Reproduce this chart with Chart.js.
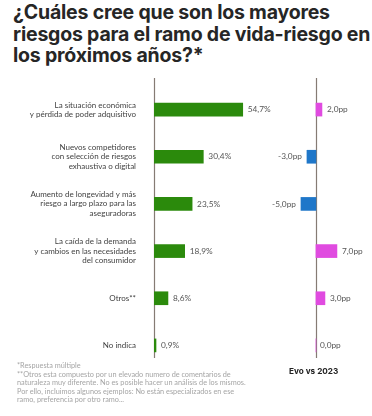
<!DOCTYPE html>
<html lang="es">
<head>
<meta charset="UTF-8">
<title>Riesgos vida-riesgo</title>
<script src="https://cdn.jsdelivr.net/npm/chart.js@4.4.0/dist/chart.umd.min.js"></script>
<style>
  body { margin: 0; background: #fff; width: 372px; height: 416px; position: relative; overflow: hidden; font-family: Lato, sans-serif; }
  .title { position: absolute; left: 13px; top: 2px; width: 358px; font-family: Inter, sans-serif; font-weight: 700; font-size: 19.5px; line-height: 21.5px; color: #262626; letter-spacing: -0.2px; }
  canvas { position: absolute; top: 60px; }
  #left { left: 0; }
  #right { left: 250px; }
  .notes { position: absolute; left: 17px; top: 362px; font-size: 7.3px; line-height: 8.5px; color: #a5a5a5; }
  .evo { position: absolute; left: 289px; top: 366px; font-family: Inter, sans-serif; font-size: 8.2px; font-weight: 700; color: #222; }
</style>
</head>
<body>
<div class="title">¿Cuáles cree que son los mayores riesgos para el ramo de vida-riesgo en los próximos años?*</div>
<canvas id="left" width="300" height="320"></canvas>
<canvas id="right" width="122" height="320"></canvas>
<div class="notes">*Respuesta múltiple<br>**Otros esta compuesto por un elevado numero de comentarios de<br>naturaleza muy diferente. No es posible hacer un análisis de los mismos.<br>Por ello, incluimos algunos ejemplos: No están especializados en ese<br>ramo, preferencia por otro ramo...</div>
<div class="evo">Evo vs 2023</div>

<script>
  const categories = [
    ['La situación económica', 'y pérdida de poder adquisitivo'],
    ['Nuevos competidores', 'con selección de riesgos', 'exhaustiva o digital'],
    ['Aumento de longevidad y más', 'riesgo a largo plazo para las', 'aseguradoras'],
    ['La caída de la demanda', 'y cambios en las necesidades', 'del consumidor'],
    'Otros**',
    'No indica'
  ]
  const share2024 = [54.7, 30.4, 23.5, 18.9, 8.6, 0.9]
  const evoVs2023 = [2.0, -3.0, -5.0, 7.0, 3.0, 0.0]

  const green = '#2b8a0c'
  const pink = '#e04be0'
  const blue = '#1f77c9'
  const pad = { top: 26, bottom: 11, left: 0, right: 0 }

  // vertical line at zero, a bit taller/shorter than the plot area like the original
  const zeroLine = {
    id: 'zeroLine',
    beforeDatasetsDraw(chart) {
      const { ctx, chartArea, scales } = chart
      const x = Math.round(scales.x.getPixelForValue(0)) + 0.5
      ctx.save()
      ctx.strokeStyle = '#857b74'
      ctx.lineWidth = 1.2
      ctx.beginPath()
      ctx.moveTo(x, chartArea.top - 8)
      ctx.lineTo(x, chartArea.bottom - 11)
      ctx.stroke()
      ctx.restore()
    }
  }

  // value text next to the end of each bar
  const valueLabels = {
    id: 'valueLabels',
    afterDatasetsDraw(chart, args, opts) {
      const { ctx } = chart
      const meta = chart.getDatasetMeta(0)
      const data = chart.data.datasets[0].data
      ctx.save()
      ctx.font = '8.3px Lato'
      ctx.fillStyle = '#555'
      ctx.textBaseline = 'middle'
      meta.data.forEach((bar, i) => {
        const v = data[i]
        const txt = v.toFixed(1).replace('.', ',') + opts.suffix
        if (v < 0) {
          ctx.textAlign = 'right'
          ctx.fillText(txt, bar.x - 5, bar.y)
        } else {
          ctx.textAlign = 'left'
          ctx.fillText(txt, bar.x + (v === 0 ? 4 : 5), bar.y)
        }
      })
      ctx.restore()
    }
  }

  new Chart(document.getElementById('left'), {
    type: 'bar',
    data: {
      labels: categories,
      datasets: [{ data: share2024, backgroundColor: green, barThickness: 13, minBarLength: 2 }]
    },
    options: {
      indexAxis: 'y',
      responsive: false,
      animation: false,
      layout: { padding: pad },
      plugins: { legend: { display: false }, tooltip: { enabled: false }, valueLabels: { suffix: '%' } },
      scales: {
        x: { display: false, min: 0, max: 90 },
        y: {
          grid: { display: false, drawTicks: false },
          border: { display: false },
          ticks: { color: '#3f3f3f', padding: 18, font: { family: 'Lato', size: 8, lineHeight: 1.15 } },
          afterFit(scale) {
            scale.width = 154
            // keep the plot area the same height as the right-hand chart
            scale.paddingTop = 0
            scale.paddingBottom = 0
          }
        }
      }
    },
    plugins: [zeroLine, valueLabels]
  })

  new Chart(document.getElementById('right'), {
    type: 'bar',
    data: {
      labels: categories,
      datasets: [{
        data: evoVs2023,
        backgroundColor: evoVs2023.map(v => v < 0 ? blue : pink),
        barThickness: 13
      }]
    },
    options: {
      indexAxis: 'y',
      responsive: false,
      animation: false,
      layout: { padding: pad },
      plugins: { legend: { display: false }, tooltip: { enabled: false }, valueLabels: { suffix: 'pp' } },
      scales: {
        x: { display: false, min: -22, max: 18.7 },
        y: { display: false }
      }
    },
    plugins: [zeroLine, valueLabels]
  })
</script>
</body>
</html>
